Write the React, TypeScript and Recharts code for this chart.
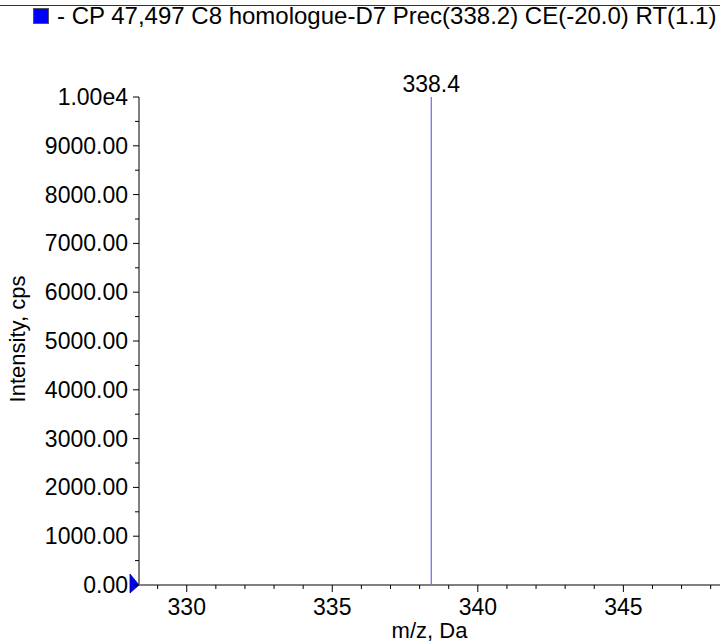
import React from "react";
import {
  LineChart,
  Line,
  XAxis,
  YAxis,
  LabelList,
  ReferenceDot,
} from "recharts";

const peakMz = [338.4];
const peakIntensity = [10000];
const xTicks = [329, 330, 331, 332, 333, 334, 335, 336, 337, 338, 339, 340, 341, 342, 343, 344, 345, 346, 347, 348];
const yTicks = [0, 500, 1000, 1500, 2000, 2500, 3000, 3500, 4000, 4500, 5000, 5500, 6000, 6500, 7000, 7500, 8000, 8500, 9000, 9500, 10000];
const xDomain = [328.36, 348.32];
const yDomain = [0, 10000];
const legendLabel = "- CP 47,497 C8 homologue-D7 Prec(338.2) CE(-20.0) RT(1.1)";

// each peak becomes a vertical stick: baseline -> apex
const stickData = peakMz.flatMap((mz, i) => [
  { mz, intensity: 0, apex: false },
  { mz, intensity: peakIntensity[i], apex: true },
]);

const FONT = "'Liberation Sans', Arial, sans-serif";
const FS = 23;

function XTick(props: any) {
  const { x, y, payload } = props;
  const major = payload.value % 5 === 0;
  return (
    <g>
      <line x1={x} x2={x} y1={y} y2={y + (major ? 7 : 4)} stroke="#000" strokeWidth={1} />
      {major && (
        <text x={x} y={y + 30} textAnchor="middle" fontSize={FS} fontFamily={FONT} fill="#000">
          {payload.value}
        </text>
      )}
    </g>
  );
}

function YTick(props: any) {
  const { x, y, payload } = props;
  const v = payload.value as number;
  const major = v % 1000 === 0;
  const label = v >= 10000 ? "1.00e4" : v.toFixed(2);
  return (
    <g>
      <line x1={x - (major ? 6 : 4)} x2={x} y1={y} y2={y} stroke="#000" strokeWidth={1} />
      {major && (
        <text x={x - 11} y={y + 8} textAnchor="end" fontSize={FS} fontFamily={FONT} fill="#000">
          {label}
        </text>
      )}
    </g>
  );
}

function YLabel(props: any) {
  const { viewBox } = props;
  const cx = 25;
  const cy = viewBox.y + viewBox.height / 2 - 2;
  return (
    <text
      x={cx}
      y={cy}
      transform={`rotate(-90 ${cx} ${cy})`}
      textAnchor="middle"
      fontSize={22}
      fontFamily={FONT}
      fill="#000"
    >
      Intensity, cps
    </text>
  );
}

function ApexLabel(props: any) {
  const { x, y, index } = props;
  const d = stickData[index];
  if (!d || !d.apex) return null;
  return (
    <text x={x} y={y - 5} textAnchor="middle" fontSize={FS} fontFamily={FONT} fill="#000">
      {d.mz.toFixed(1)}
    </text>
  );
}

function Marker(props: any) {
  const { cx, cy } = props;
  return (
    <path
      d={`M${cx - 9},${cy - 11} L${cx},${cy} L${cx - 9},${cy + 8} Z`}
      fill="#0000ff"
      stroke="#000080"
      strokeWidth={0.8}
    />
  );
}

export default function App() {
  return (
    <div style={{ position: "absolute", left: 0, top: 0, width: 720, height: 643, background: "#fff" }}>
      <div style={{ position: "absolute", left: 0, top: 5, width: 720, borderTop: "1.5px solid #333" }} />
      <div
        style={{
          position: "absolute",
          left: 33,
          top: 8,
          width: 14,
          height: 14,
          background: "#0000ff",
          border: "1px solid #555",
        }}
      />
      <div
        style={{
          position: "absolute",
          left: 57,
          top: 2,
          fontSize: 24,
          fontFamily: FONT,
          whiteSpace: "nowrap",
          color: "#000",
        }}
      >
        {legendLabel}
      </div>
      <LineChart
        width={720}
        height={643}
        data={stickData}
        margin={{ top: 97, right: 0, left: 0, bottom: 0 }}
      >
        <XAxis
          dataKey="mz"
          type="number"
          domain={xDomain}
          ticks={xTicks}
          allowDataOverflow
          interval={0}
          height={58}
          tickSize={0}
          tickMargin={0}
          tickLine={false}
          tick={<XTick />}
          axisLine={{ stroke: "#808080", strokeWidth: 2 }}
          label={{
            value: "m/z, Da",
            position: "insideBottom",
            offset: 0,
            dy: -5,
            fontSize: 22,
            fontFamily: FONT,
            fill: "#000",
          }}
        />
        <YAxis
          dataKey="intensity"
          type="number"
          domain={yDomain}
          ticks={yTicks}
          interval={0}
          width={139}
          tickSize={0}
          tickMargin={0}
          tickLine={false}
          tick={<YTick />}
          axisLine={{ stroke: "#808080", strokeWidth: 2 }}
          label={<YLabel />}
        />
        <ReferenceDot x={xDomain[0]} y={0} ifOverflow="visible" shape={<Marker />} />
        <Line
          dataKey="intensity"
          stroke="#4a4aff"
          strokeWidth={1}
          dot={false}
          activeDot={false}
          isAnimationActive={false}
        >
          <LabelList content={<ApexLabel />} />
        </Line>
      </LineChart>
    </div>
  );
}
